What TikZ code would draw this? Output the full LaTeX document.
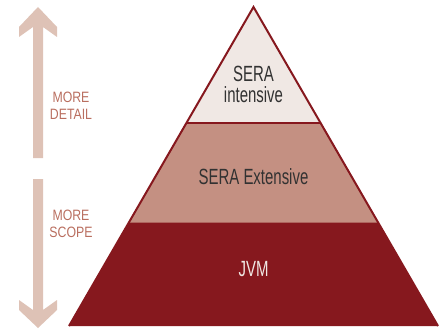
\documentclass[tikz,border=0pt]{standalone}
\usepackage{fontspec}
\usetikzlibrary{calc}
\newfontfamily\pyrfont[FakeStretch=0.68]{Liberation Sans}
\newfontfamily\lblfont[FakeStretch=0.82]{Liberation Sans}
\definecolor{darkred}{RGB}{134,24,30}
\definecolor{rose}{RGB}{196,144,130}
\definecolor{pale}{RGB}{240,232,228}
\definecolor{arrowpink}{RGB}{222,194,182}
\definecolor{lbltext}{RGB}{185,110,95}
\definecolor{darktext}{RGB}{50,50,50}
\tikzset{
  layer/.style={font=\pyrfont\fontsize{22}{21}\selectfont, align=center, inner sep=0pt},
  sidelabel/.style={font=\lblfont\fontsize{15}{16.5}\selectfont, text=lbltext, align=center, inner sep=0pt},
  bigarrow/.style={fill=arrowpink, draw=none}
}

\begin{document}
\begin{tikzpicture}[x=1pt, y=-1pt]
\useasboundingbox (0,0) rectangle (444,329);
\coordinate (apex) at (253.5, 7);
\coordinate (bl) at (69, 326);
\coordinate (br) at (438, 326);
\coordinate (tl) at ($(apex)!0.3636!(bl)$);
\coordinate (tr) at ($(apex)!0.3636!(br)$);
\coordinate (ml) at ($(apex)!0.6771!(bl)$);
\coordinate (mr) at ($(apex)!0.6771!(br)$);
\fill[darkred] (ml) -- (mr) -- (br) -- (bl) -- cycle;
\filldraw[fill=rose, draw=darkred, line width=0.8pt] (tl) -- (tr) -- (mr) -- (ml) -- cycle;
\fill[pale] (apex) -- (tr) -- (tl) -- cycle;
\draw[darkred, line width=2pt, line join=miter] (bl) -- (apex) -- (br);
\draw[darkred, line width=2pt] (tl) -- (tr);
\node[layer, text=darktext] at (253.5, 84) (SI) {SERA\\intensive};
\node[layer, text=darktext] at (253.5, 177) (SE) {SERA Extensive};
\node[layer, text=pale] at (253.5, 269) (JVM) {JVM};
% side arrows
\fill[bigarrow] (33,158) -- (33,27) -- (19,37) -- (19,27) -- (38,7)
  -- (57,27) -- (57,37) -- (43,27) -- (43,158) -- cycle;
\fill[bigarrow] (33,179) -- (33,310) -- (19,300) -- (19,310) -- (38,328)
  -- (57,310) -- (57,300) -- (43,310) -- (43,179) -- cycle;
\node[sidelabel] at (71, 106) (MD) {MORE\\DETAIL};
\node[sidelabel] at (71, 224) (MS) {MORE\\SCOPE};
\end{tikzpicture}
\end{document}
